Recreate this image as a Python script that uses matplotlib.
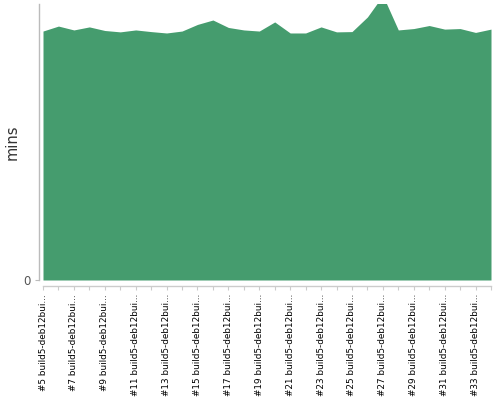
import matplotlib
matplotlib.use("Agg")
import matplotlib.pyplot as plt

builds = list(range(5, 35))
labels = [f"#{b} build5-deb12bui..." for b in builds]
minutes = [90.2, 92.0, 90.6, 91.7, 90.4, 89.9, 90.6, 90.0, 89.5, 90.2,
           92.6, 94.2, 91.5, 90.6, 90.2, 93.5, 89.5, 89.5, 91.7, 89.9,
           90.0, 95.3, 103.1, 90.6, 91.1, 92.2, 90.9, 91.1, 89.7, 90.9]
y_max = 100
y_ticks = [0]

fig = plt.figure(figsize=(5, 4), dpi=100)
ax = fig.add_axes([43/500, 1 - 280/400, (491 - 43)/500, (280 - 4)/400])

x = list(range(len(builds)))
ax.fill_between(x, 0, minutes, color="#459c6e", linewidth=0)
ax.set_xlim(0, len(builds) - 1)
ax.set_ylim(0, y_max)

for s in ["top", "right"]:
    ax.spines[s].set_visible(False)
ax.spines["left"].set_position(("outward", 3))
ax.spines["bottom"].set_position(("outward", 4))
ax.spines["left"].set_color("#bbbbbb")
ax.spines["bottom"].set_color("#cccccc")
ax.spines["left"].set_linewidth(1)
ax.spines["bottom"].set_linewidth(1)

ax.set_yticks(y_ticks)
ax.set_yticklabels([str(t) for t in y_ticks], color="#555555", fontsize=8.5)
ax.tick_params(axis="y", length=3, color="#bbbbbb", pad=3)

ax.set_xticks(x)
ax.set_xticklabels([lab if i % 2 == 0 else "" for i, lab in enumerate(labels)],
                   rotation=90, fontsize=6.4, color="#000000")
ax.tick_params(axis="x", length=3, color="#cccccc", pad=3)

ax.set_ylabel("mins", fontsize=10.5, color="#333333")
ax.yaxis.set_label_coords(-0.052, 0.5)

fig.savefig("out.png", dpi=100)
